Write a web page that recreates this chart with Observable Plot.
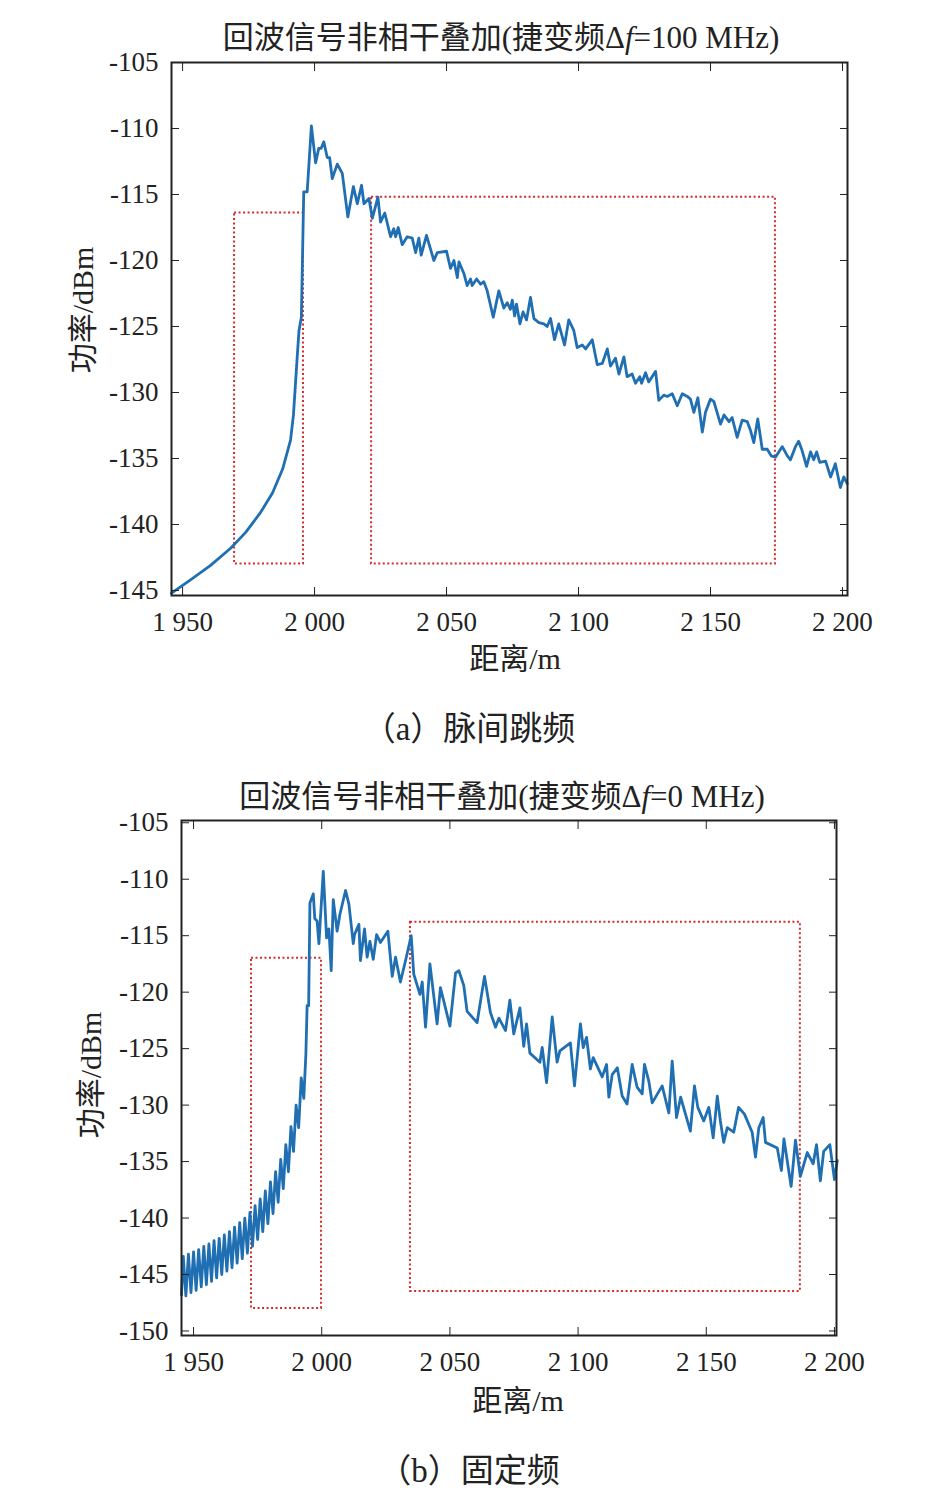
<!DOCTYPE html>
<html><head><meta charset="utf-8">
<script src="https://cdn.jsdelivr.net/npm/d3@7"></script>
<script src="https://cdn.jsdelivr.net/npm/@observablehq/plot@0.6"></script>
<style>
body{margin:0;width:928px;height:1505px;position:relative;background:#fff;font-family:"Liberation Serif","Noto Sans CJK SC",serif;color:#222}
.t{position:absolute;white-space:nowrap;transform:translateX(-50%);font-size:30px;z-index:2;line-height:1}
.tt{font-size:31px}
.cap{font-size:33px}
.p{position:absolute;left:0;z-index:1}
.yl{position:absolute;white-space:nowrap;font-size:30px;transform:translate(-50%,-50%) rotate(-90deg);z-index:2}
</style></head><body>
<div class="t tt" style="left:501px;top:22px">回波信号非相干叠加(捷变频Δ<i>f</i>=100 MHz)</div>
<div class="p" id="a" style="top:0"></div>
<div class="t" style="left:515px;top:644px">距离/m</div>
<div class="yl" style="left:80px;top:310px">功率/dBm</div>
<div class="t cap" style="left:469px;top:713px">（a）脉间跳频</div>
<div class="t tt" style="left:502px;top:781px">回波信号非相干叠加(捷变频Δ<i>f</i>=0 MHz)</div>
<div class="p" id="b" style="top:760px"></div>
<div class="t" style="left:518px;top:1386px">距离/m</div>
<div class="yl" style="left:88px;top:1075px">功率/dBm</div>
<div class="t cap" style="left:469px;top:1455px">（b）固定频</div>
<script>
// Chart (a): 脉间跳频
const xA = [1945.8,1953.0,1960.6,1968.2,1973.9,1979.5,1984.1,1987.9,1990.9,1992.0,1993.4,1994.1,1995.0,1995.9,1997.2,1998.8,2000.4,2001.6,2002.5,2003.5,2004.8,2005.7,2006.7,2008.6,2010.5,2012.6,2014.7,2016.2,2017.8,2018.7,2020.6,2021.9,2024.0,2025.0,2026.6,2028.8,2030.0,2030.7,2031.7,2033.2,2035.1,2037.0,2038.3,2039.5,2040.4,2042.4,2045.2,2046.5,2050.0,2051.5,2052.8,2054.1,2054.7,2056.6,2057.8,2059.1,2059.7,2061.4,2062.9,2064.1,2065.4,2067.7,2069.8,2071.7,2073.0,2074.2,2074.9,2075.8,2076.5,2077.8,2079.0,2080.3,2081.8,2083.1,2085.0,2086.9,2088.1,2089.4,2090.9,2092.5,2094.7,2096.3,2098.2,2099.5,2101.4,2102.7,2105.2,2107.1,2109.0,2110.9,2112.1,2114.0,2115.3,2117.2,2118.4,2120.3,2121.6,2123.2,2123.9,2125.4,2126.6,2129.2,2130.4,2132.3,2133.6,2135.5,2137.4,2139.3,2141.2,2142.4,2143.7,2145.2,2146.9,2148.1,2150.0,2151.3,2153.8,2155.1,2157.0,2158.2,2160.1,2162.0,2163.9,2165.2,2166.4,2167.9,2169.6,2171.5,2173.0,2174.6,2177.2,2179.1,2180.3,2182.2,2183.4,2184.7,2186.4,2187.9,2189.1,2190.2,2191.4,2193.6,2195.5,2197.3,2199.2,2200.5,2201.8];
const yA = [-145.2,-144.2,-143.1,-141.8,-140.6,-139.1,-137.6,-135.8,-133.6,-131.7,-127.4,-125.3,-124.3,-114.8,-114.8,-109.8,-112.6,-111.5,-111.5,-111.0,-112.2,-112.2,-113.8,-112.7,-113.4,-116.7,-114.4,-115.7,-114.3,-115.7,-115.3,-116.8,-115.2,-117.1,-116.4,-118.2,-117.6,-118.2,-117.5,-118.8,-118.2,-118.3,-119.4,-118.3,-119.6,-118.1,-120.0,-119.4,-119.3,-120.6,-120.0,-121.3,-120.1,-121.0,-121.9,-121.4,-121.9,-121.4,-121.8,-121.6,-122.3,-124.3,-122.3,-123.6,-123.2,-123.7,-123.0,-124.2,-123.3,-124.8,-123.9,-124.5,-122.8,-124.4,-124.7,-124.8,-125.0,-124.4,-126.0,-124.8,-126.4,-124.5,-125.3,-126.6,-126.4,-126.7,-126.0,-127.9,-127.8,-126.7,-128.0,-127.4,-128.6,-127.3,-128.8,-128.6,-129.3,-128.8,-129.3,-128.5,-129.2,-128.4,-130.6,-130.2,-130.3,-130.1,-131.0,-130.1,-130.3,-130.5,-131.5,-130.4,-133.0,-131.5,-130.5,-130.7,-132.4,-131.7,-132.2,-131.9,-133.4,-132.1,-132.2,-132.9,-133.8,-132.0,-134.3,-134.3,-134.8,-134.9,-134.1,-134.8,-135.1,-134.1,-133.7,-134.4,-135.6,-134.5,-135.1,-134.5,-135.3,-135.2,-136.4,-135.4,-137.2,-136.4,-136.9];
const boxA = {x1:[1969.7,2021.6], x2:[1995.8,2174.6], y1:[-116.4,-115.2], y2:[-143.0,-143.0]};

// Chart (b): 固定频
const xB = [1945.3,1946,1947,1948,1949,1950,1951,1952,1953,1954,1955,1956,1957,1958,1959,1960,1961,1962,1963,1964,1965,1966,1967,1968,1969,1970,1971,1972,1973,1974,1975,1976,1977,1978,1979,1980,1981,1982,1983,1984,1985,1986,1987,1988,1989,1990,1991,1992,1993,1993.8,1994.3,1994.9,1995.4,1996.7,1997.3,1998.2,1998.9,2000.6,2001.9,2002.8,2003.7,2004.5,2006.0,2007.1,2009.3,2010.6,2012.3,2012.8,2014.5,2015.1,2016.7,2017.7,2018.8,2020.1,2021.4,2022.9,2025.8,2027.5,2028.8,2030.7,2032.7,2034.9,2035.9,2038.3,2039.2,2040.5,2042.2,2045.0,2046.3,2050.0,2052.2,2053.5,2055.4,2056.7,2060.6,2063.5,2065.8,2067.8,2069.1,2071.7,2073.4,2074.9,2077.3,2078.8,2079.9,2081.2,2085.1,2086.0,2087.7,2089.9,2091.8,2092.9,2097.0,2098.6,2100.9,2102.0,2103.3,2104.8,2105.9,2109.4,2111.1,2112.0,2113.3,2115.3,2117.2,2119.1,2121.1,2123.0,2125.0,2125.9,2127.6,2128.9,2132.8,2135.4,2136.7,2138.4,2140.0,2143.8,2145.4,2146.7,2149.0,2151.0,2152.7,2154.3,2155.5,2156.8,2158.2,2160.7,2162.6,2164.9,2167.9,2169.2,2170.5,2172.2,2173.1,2177.7,2179.3,2180.3,2183.1,2184.8,2186.7,2189.4,2191.7,2193.0,2194.5,2195.8,2198.2,2200.0,2201.1];
const yB = [-146.8,-143.4,-146.9,-143.2,-146.6,-143.0,-146.4,-142.8,-146.1,-142.5,-145.9,-142.3,-145.6,-142.0,-145.3,-141.8,-145.0,-141.5,-144.7,-141.2,-144.4,-140.8,-144.0,-140.4,-143.6,-140.0,-143.1,-139.5,-142.5,-138.9,-141.9,-138.3,-141.2,-137.6,-140.5,-136.8,-139.6,-135.9,-138.6,-134.8,-137.4,-133.5,-135.9,-131.9,-134.1,-130.0,-132.0,-127.6,-129.4,-125.6,-121.2,-121.2,-112.1,-111.3,-113.5,-113.7,-115.7,-109.3,-115.2,-114.4,-118.1,-111.8,-114.6,-113.1,-111.0,-112.2,-115.7,-114.9,-114.0,-117.2,-114.4,-116.9,-115.5,-117.1,-114.9,-115.6,-114.6,-118.6,-116.9,-119.1,-117.2,-115.0,-118.4,-120.2,-119.1,-123.1,-117.5,-122.8,-119.6,-123.0,-118.3,-118.1,-119.4,-121.7,-122.7,-118.6,-121.8,-123.1,-122.3,-123.4,-120.7,-123.7,-121.4,-124.8,-122.8,-125.4,-126.2,-124.9,-128.0,-122.2,-126.2,-125.2,-124.5,-128.3,-122.8,-124.9,-124.0,-126.8,-125.8,-127.5,-126.4,-129.3,-127.3,-126.7,-129.2,-129.9,-126.4,-128.4,-129.0,-126.4,-127.9,-129.8,-128.3,-130.7,-126.1,-131.1,-129.3,-132.3,-128.3,-130.2,-131.4,-130.2,-132.9,-129.2,-131.4,-133.3,-132.0,-132.4,-130.2,-130.8,-132.4,-134.6,-132.0,-131.1,-133.3,-133.8,-135.8,-133.0,-137.2,-133.1,-136.3,-134.2,-135.2,-133.5,-136.7,-134.1,-133.5,-136.6,-134.9];
const boxB = {x1:[1972.6,2034.6], x2:[1999.9,2186.7], y1:[-117.0,-113.8], y2:[-148.0,-146.5]};

const xTicks = [1950,2000,2050,2100,2150,2200];
const xTickLabels = ["1 950","2 000","2 050","2 100","2 150","2 200"];

function chart(xs, ys, box, o){
  const data = xs.map((x,i)=>({x, y:ys[i]}));
  const boxes = box.x1.map((_,i)=>({x1:box.x1[i],x2:box.x2[i],y1:box.y1[i],y2:box.y2[i]}));
  const fmt = d => xTickLabels[xTicks.indexOf(d)];
  return Plot.plot({
    width:928, height:o.height,
    marginLeft:o.ml, marginRight:o.mr, marginTop:o.mt, marginBottom:o.mb,
    style:{fontFamily:'"Liberation Serif",serif', fontSize:"27px", color:"#222", background:"transparent"},
    x:{domain:o.xd},
    y:{domain:o.yd},
    marks:[
      Plot.rect(boxes,{x1:"x1",x2:"x2",y1:"y1",y2:"y2",fill:"none",stroke:"#d42b2b",strokeWidth:2,strokeDasharray:"2,2.5"}),
      Plot.line(data,{x:"x",y:"y",stroke:"#1f6fb2",strokeWidth:2.8}),
      Plot.frame({stroke:"#222",strokeWidth:2}),
      Plot.axisX({ticks:xTicks,tickFormat:fmt,tickSize:-8,tickPadding:24,anchor:"bottom",label:null}),
      Plot.axisX({ticks:xTicks,tickFormat:()=>"",tickSize:-8,anchor:"top",label:null}),
      Plot.axisY({ticks:o.yt,tickFormat:d=>String(d),tickSize:-8,tickPadding:21,anchor:"left",label:null}),
      Plot.axisY({ticks:o.yt,tickFormat:()=>"",tickSize:-8,anchor:"right",label:null})
    ]
  });
}
document.getElementById("a").append(chart(xA,yA,boxA,{height:680,ml:171,mr:81,mt:62,mb:85,xd:[1945.8,2201.9],yd:[-145.38,-105],yt:d3.range(-145,-104,5)}));
document.getElementById("b").append(chart(xB,yB,boxB,{height:660,ml:181,mr:92,mt:60,mb:85,xd:[1945.3,2200.8],yd:[-150.4,-104.8],yt:d3.range(-150,-104,5)}));
</script></body></html>
